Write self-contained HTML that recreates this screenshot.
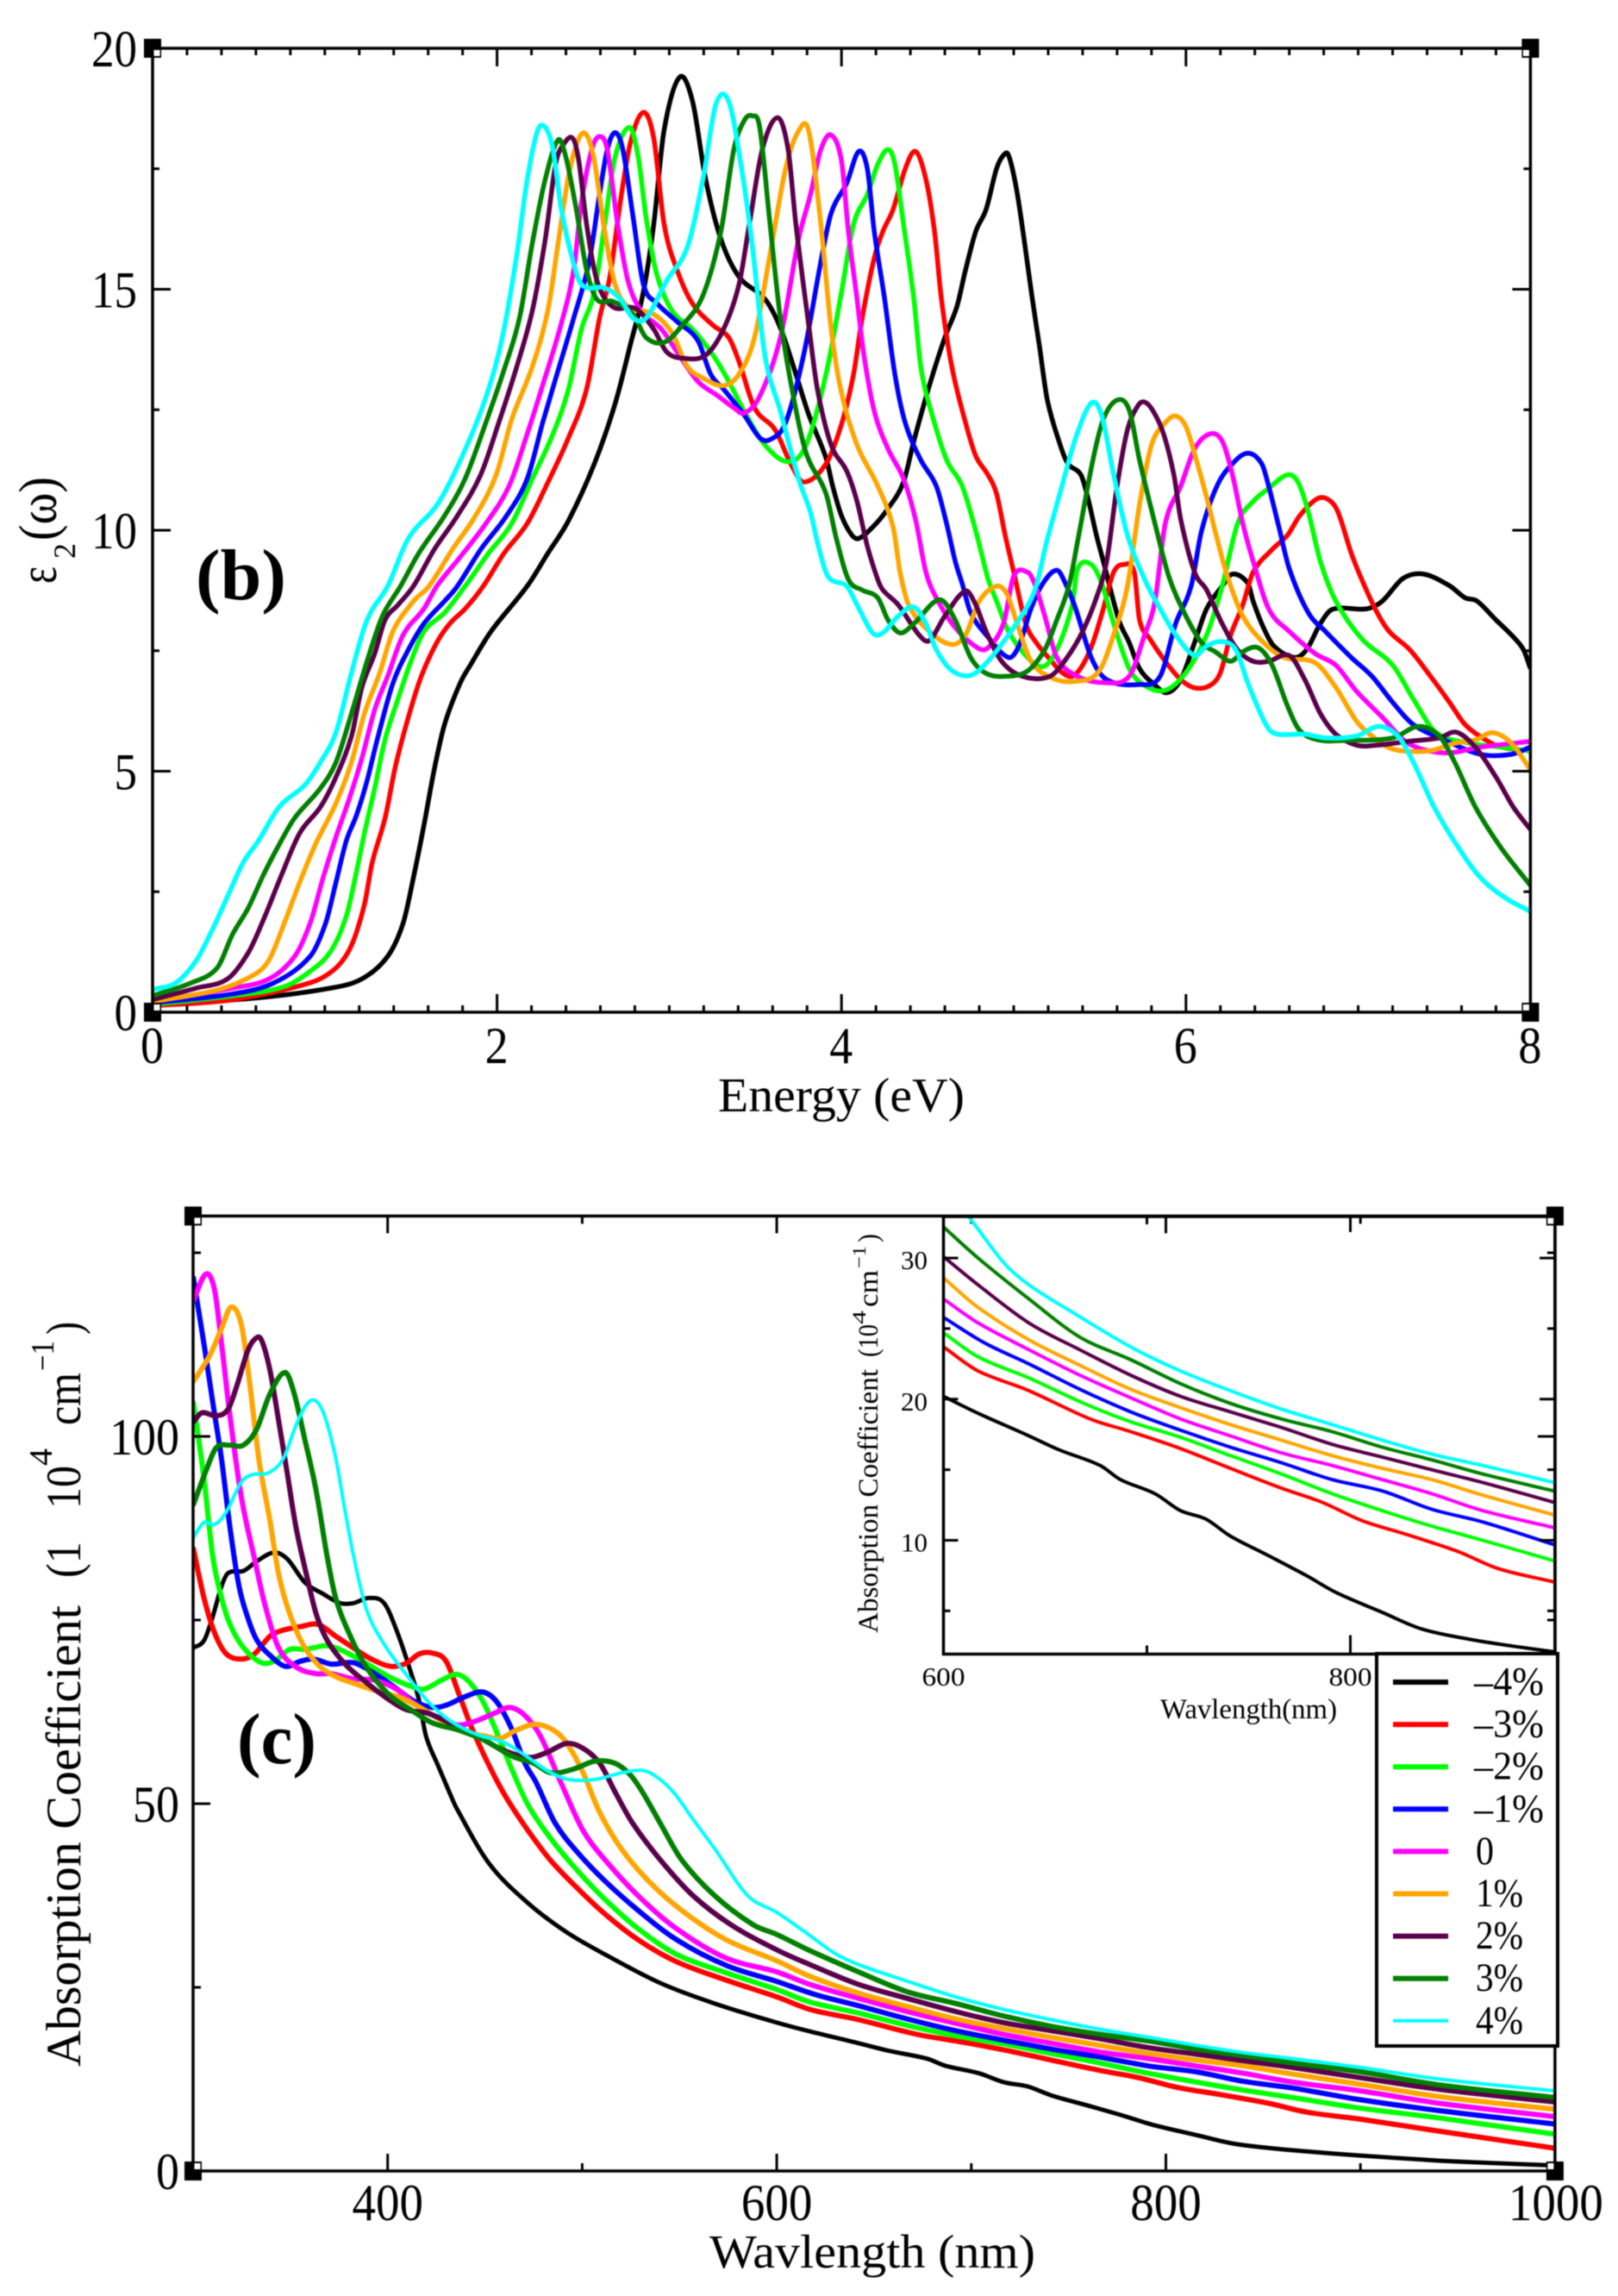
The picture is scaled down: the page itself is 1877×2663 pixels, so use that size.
<!DOCTYPE html>
<html lang="en">
<head>
<meta charset="utf-8">
<title>Dielectric function and absorption coefficient versus strain</title>
<style>
html,body{margin:0;padding:0;background:#fff;}
svg{display:block;filter:blur(0.6px);}
text{font-family:"Liberation Serif","DejaVu Serif",serif;fill:#000;}
</style>
</head>
<body>
<svg id="fig" xmlns="http://www.w3.org/2000/svg" width="1877" height="2663" viewBox="0 0 1877 2663">
<defs>
<clipPath id="clipB"><rect x="177" y="56" width="1598" height="1118"/></clipPath>
<clipPath id="clipC"><rect x="224" y="1412" width="1580" height="1106"/></clipPath>
<clipPath id="clipI"><rect x="1094.5" y="1412" width="708" height="506"/></clipPath>
</defs>
<g id="panelB"></g>
<g id="panelC"></g>
<g id="panelI"></g>
<g id="legend"></g>

<text x="833" y="1289" font-size="56" textLength="286" lengthAdjust="spacingAndGlyphs">Energy (eV)</text>
<text transform="translate(65,677) rotate(-90)" font-size="62" textLength="20" lengthAdjust="spacingAndGlyphs">ε</text>
<text transform="translate(87,648) rotate(-90)" font-size="36" textLength="18" lengthAdjust="spacingAndGlyphs">2</text>
<text transform="translate(65,627) rotate(-90)" font-size="62" textLength="74" lengthAdjust="spacingAndGlyphs">(ω)</text>
<text x="227" y="695" font-size="84" font-weight="bold" textLength="105" lengthAdjust="spacingAndGlyphs">(b)</text>

<text x="823" y="2630" font-size="55" textLength="378" lengthAdjust="spacingAndGlyphs">Wavlength (nm)</text>
<text x="275" y="2045" font-size="84" font-weight="bold" textLength="92" lengthAdjust="spacingAndGlyphs">(c)</text>
<g>
<text transform="translate(93,2397) rotate(-90)" font-size="57" textLength="535" lengthAdjust="spacingAndGlyphs">Absorption Coefficient</text>
<text transform="translate(93,1830) rotate(-90)" font-size="57" textLength="42" lengthAdjust="spacingAndGlyphs">(1</text>
<text transform="translate(93,1750) rotate(-90)" font-size="57" textLength="50" lengthAdjust="spacingAndGlyphs">10</text>
<text transform="translate(60,1700) rotate(-90)" font-size="38" textLength="20" lengthAdjust="spacingAndGlyphs">4</text>
<text transform="translate(93,1653) rotate(-90)" font-size="57" textLength="61" lengthAdjust="spacingAndGlyphs">cm</text>
<text transform="translate(62,1590) rotate(-90)" font-size="38" textLength="35" lengthAdjust="spacingAndGlyphs">−1</text>
<text transform="translate(93,1548) rotate(-90)" font-size="57" textLength="15" lengthAdjust="spacingAndGlyphs">)</text>
</g>

<text x="1346" y="1993" font-size="33" textLength="205" lengthAdjust="spacingAndGlyphs">Wavlength(nm)</text>
<g>
<text transform="translate(1018,1894) rotate(-90)" font-size="33" textLength="306" lengthAdjust="spacingAndGlyphs">Absorption Coefficient</text>
<text transform="translate(1018,1574) rotate(-90)" font-size="33" textLength="38" lengthAdjust="spacingAndGlyphs">(10</text>
<text transform="translate(1004,1536) rotate(-90)" font-size="22" textLength="16" lengthAdjust="spacingAndGlyphs">4</text>
<text transform="translate(1018,1516) rotate(-90)" font-size="33" textLength="43" lengthAdjust="spacingAndGlyphs">cm</text>
<text transform="translate(1004,1471) rotate(-90)" font-size="22" textLength="26" lengthAdjust="spacingAndGlyphs">−1</text>
<text transform="translate(1018,1441) rotate(-90)" font-size="33" textLength="10" lengthAdjust="spacingAndGlyphs">)</text>
</g>
</svg>
<script>
/* ---------- shared labels ---------- */
const strainLabels = ['–4%','–3%','–2%','–1%','0','1%','2%','3%','4%'];
const strainKeys = ['minus-4','minus-3','minus-2','minus-1','zero','plus-1','plus-2','plus-3','plus-4'];
const seriesColors = ['#000000','#ff0000','#00ff00','#0000ff','#ff00ff','#ffa500','#5a004a','#008000','#00ffff'];

/* ---------- panel b tick values ---------- */
const bXMajor = [0,2,4,6,8];
const bYMajor = [0,5,10,15,20];
const bYMinor = [2.5,7.5,12.5,17.5];

/* ---------- panel b data: energy (eV) and epsilon2 ---------- */
const energyM4 = [0,.615,1.035,1.215,1.365,1.455,1.515,1.575,1.635,1.695,1.785,1.845,1.965,2.175,2.295,2.415,2.565,2.685,2.775,2.85,2.91,2.97,3.06,3.135,3.21,3.3,3.405,3.555,3.645,3.735,3.81,3.91,3.95,4.0,4.06,4.1,4.18,4.27,4.36,4.42,4.51,4.6,4.67,4.72,4.78,4.84,4.9,4.94,4.97,5.015,5.06,5.105,5.15,5.195,5.27,5.315,5.39,5.43,5.48,5.52,5.61,5.67,5.73,5.81,5.89,5.97,6.05,6.12,6.21,6.27,6.36,6.39,6.45,6.51,6.63,6.7,6.78,6.85,7.05,7.14,7.26,7.38,7.53,7.62,7.69,7.8,7.9,7.96,8];
const eps2M4 = [.15,.30,.5,.69,1.16,1.85,2.8,3.87,5.03,5.97,6.82,7.2,7.9,8.84,9.52,10.2,11.38,12.62,13.86,14.95,16.35,18.3,19.4,18.9,17.3,16.04,15.26,14.8,14.2,13.24,12.4,11.5,10.9,10.3,9.9,9.83,10.06,10.45,11,11.85,13,14,14.64,15.4,16.2,16.66,17.5,17.78,17.78,17.1,16.04,14.87,13.8,12.7,11.77,11.38,11.15,10.68,9.9,9.36,8.14,7.67,7.13,6.82,6.63,6.9,7.67,8.37,8.84,9.09,8.9,8.53,7.98,7.6,7.36,7.52,8.06,8.36,8.37,8.53,9.0,9.09,8.85,8.6,8.53,8.14,7.79,7.52,7.13];

const energyM3 = [0,.465,.915,1.065,1.155,1.23,1.275,1.35,1.41,1.485,1.56,1.65,1.725,1.815,1.92,2.04,2.175,2.295,2.415,2.52,2.595,2.655,2.715,2.775,2.85,2.91,2.97,3.045,3.135,3.255,3.345,3.405,3.495,3.615,3.705,3.78,3.91,4.0,4.07,4.12,4.19,4.24,4.3,4.37,4.43,4.49,4.54,4.58,4.64,4.72,4.78,4.85,4.9,4.95,5.0,5.07,5.13,5.22,5.28,5.34,5.4,5.46,5.52,5.58,5.64,5.7,5.73,5.79,5.88,5.97,6.05,6.14,6.2,6.26,6.33,6.39,6.5,6.59,6.66,6.76,6.82,6.88,6.96,7.03,7.11,7.18,7.3,7.42,7.53,7.62,7.74,7.83,8];
const eps2M3 = [.13,.26,.61,.92,1.39,2.24,3.1,4.03,5.1,6.12,6.97,7.67,8.06,8.37,8.84,9.52,10.14,10.99,11.92,12.93,14.4,15.26,16.8,18.05,18.67,18.13,16.35,15.4,14.7,14.25,14.0,13.5,12.54,12.08,11.38,11,11.38,12.2,13.24,14.4,15.65,16.2,16.66,17.5,17.86,17.28,16.2,14.8,13.4,12.23,11.54,11.15,10.76,9.9,9.13,8.06,7.67,7.28,7.05,6.97,7.2,7.67,8.37,9.13,9.29,9.13,8.14,7.75,7.28,6.9,6.73,6.78,7.05,7.83,8.45,9.13,9.6,9.9,10.3,10.65,10.65,10.4,9.52,8.9,8.29,7.9,7.52,6.97,6.43,5.97,5.65,5.5,5.42];

const energyM2 = [0,.465,.765,.915,1.035,1.125,1.185,1.23,1.29,1.35,1.425,1.5,1.575,1.695,1.815,1.95,2.085,2.205,2.325,2.415,2.49,2.565,2.625,2.685,2.77,2.82,2.865,2.925,3.015,3.135,3.255,3.345,3.435,3.555,3.69,3.795,3.91,4.0,4.07,4.15,4.21,4.27,4.31,4.36,4.42,4.46,4.52,4.61,4.7,4.78,4.85,4.9,4.97,5.08,5.17,5.25,5.34,5.37,5.45,5.51,5.58,5.67,5.76,5.88,6.0,6.12,6.21,6.3,6.39,6.47,6.59,6.65,6.71,6.78,6.87,7.02,7.2,7.32,7.45,7.65,7.83,8];
const eps2M2 = [.16,.34,.53,.85,1.27,2.0,2.94,3.72,4.65,5.66,6.5,7.28,7.9,8.29,8.84,9.52,10.14,11.07,12,12.93,14.17,14.95,16.35,17.74,18.36,17.74,16.5,15.34,14.56,14.17,13.63,13.09,12.47,11.77,11.42,11.77,13.24,14.95,16.35,16.97,17.59,17.9,17.59,16.35,14.8,13.4,12.47,11.46,10.92,9.98,9.0,8.53,7.9,7.36,7.17,7.52,8.45,9.2,9.29,8.9,8.06,7.13,6.78,6.68,7.05,7.83,8.84,10.14,10.6,10.84,11.15,11,10.38,9.36,8.53,7.75,7.2,6.5,5.81,5.58,5.5,5.42];

const energyM1 = [0,.465,.705,.915,1.005,1.065,1.125,1.185,1.245,1.305,1.395,1.485,1.575,1.695,1.77,1.905,2.055,2.175,2.265,2.355,2.445,2.535,2.595,2.64,2.685,2.73,2.79,2.85,2.925,3.045,3.165,3.24,3.315,3.435,3.525,3.585,3.675,3.78,3.88,3.94,4.03,4.1,4.15,4.19,4.25,4.31,4.37,4.46,4.55,4.61,4.66,4.7,4.75,4.84,4.97,5.03,5.1,5.17,5.25,5.3,5.36,5.45,5.54,5.73,5.85,5.94,6.03,6.09,6.18,6.27,6.36,6.44,6.48,6.54,6.6,6.71,6.81,6.96,7.08,7.2,7.32,7.5,7.71,7.89,8];
const eps2M1 = [.19,.38,.61,1.16,1.85,2.7,3.56,4.1,4.8,5.66,6.82,7.52,8.06,8.53,8.84,9.6,10.3,11.07,12.23,13.32,14.4,15.57,16.97,17.9,18.25,17.9,16.5,15.1,14.72,14.33,13.94,13.24,12.93,12.39,11.92,11.88,12.23,13.63,15.57,16.58,17.2,17.86,17.5,16.2,14.8,13.24,12.23,11.46,10.92,10.14,9.36,8.9,8.29,7.83,7.36,7.6,8.37,8.9,9.17,8.9,8.37,7.36,6.9,6.8,6.97,8.06,8.84,9.98,10.92,11.38,11.6,11.38,10.92,10.06,9.2,8.29,7.9,7.36,6.97,6.43,5.97,5.65,5.35,5.35,5.5];

const energyZ = [0,.465,.675,.825,.915,.99,1.065,1.14,1.215,1.29,1.365,1.455,1.575,1.65,1.785,1.935,2.07,2.175,2.265,2.37,2.445,2.49,2.55,2.595,2.64,2.7,2.76,2.835,2.955,3.045,3.165,3.285,3.375,3.435,3.525,3.645,3.75,3.82,3.88,3.94,4.0,4.04,4.09,4.13,4.19,4.27,4.36,4.43,4.49,4.55,4.66,4.79,4.85,4.94,5.0,5.08,5.12,5.18,5.25,5.37,5.52,5.67,5.76,5.82,5.88,5.97,6.05,6.14,6.21,6.27,6.33,6.39,6.48,6.6,6.75,6.87,6.99,7.14,7.29,7.5,7.71,8];
const eps2Z = [.22,.5,.69,1.16,1.85,2.79,3.64,4.41,5.27,6.28,6.97,7.83,8.37,8.84,9.44,10.14,10.92,12,13.01,14.25,15.4,16.8,17.9,18.17,17.9,16.35,15.18,14.56,14.17,13.7,13.09,12.78,12.54,12.43,12.78,14,16.03,16.97,17.9,18.2,17.66,16.2,14.8,13.63,12.47,11.69,11.07,10.22,9.13,8.6,7.98,7.56,7.56,8.06,9.05,9.13,8.9,8.22,7.36,6.97,6.84,6.97,7.83,8.53,10.14,10.92,11.69,12.0,11.85,11.15,10.14,9.36,8.37,7.9,7.44,7.2,6.66,6.12,5.58,5.38,5.5,5.62];

const energyP1 = [0,.375,.585,.675,.765,.855,.945,1.065,1.155,1.23,1.32,1.395,1.515,1.605,1.74,1.875,1.995,2.085,2.205,2.295,2.355,2.415,2.475,2.52,2.565,2.625,2.685,2.76,2.91,3.015,3.105,3.195,3.315,3.405,3.495,3.585,3.675,3.75,3.81,3.88,3.94,4.0,4.09,4.21,4.3,4.34,4.39,4.51,4.64,4.72,4.8,4.9,4.96,5.02,5.1,5.22,5.34,5.49,5.58,5.66,5.73,5.8,5.88,5.94,6.0,6.06,6.12,6.18,6.24,6.33,6.45,6.57,6.75,6.87,6.99,7.08,7.2,7.41,7.56,7.68,7.78,7.89,8];
const eps2P1 = [.22,.46,.77,1.08,1.85,2.7,3.48,4.34,5.19,6.2,7.05,7.9,8.53,8.84,9.6,10.3,11.15,12.3,13.4,14.56,15.96,17.35,18.13,18.2,17.66,16.2,15.1,14.64,14.48,14.1,13.4,13.16,13.0,13.24,14.0,15.73,17.5,18.28,18.28,16.35,14.17,12.85,11.77,10.92,10.06,9.13,8.45,7.9,7.63,7.83,8.53,8.84,8.68,8.06,7.28,6.94,6.86,7.05,7.83,8.84,10.53,11.77,12.23,12.37,12.15,11.46,10.68,9.83,9.05,8.22,7.67,7.36,7.25,6.74,6.04,5.73,5.46,5.42,5.58,5.65,5.8,5.58,5.03];

const energyP2 = [0,.255,.435,.555,.645,.75,.855,.975,1.065,1.155,1.215,1.29,1.35,1.425,1.515,1.635,1.77,1.905,2.01,2.115,2.205,2.28,2.34,2.385,2.44,2.475,2.52,2.58,2.67,2.805,2.91,2.985,3.075,3.21,3.315,3.405,3.465,3.54,3.63,3.69,3.735,3.81,3.86,3.94,4.03,4.09,4.15,4.21,4.24,4.33,4.45,4.51,4.6,4.72,4.78,4.84,4.93,5.05,5.21,5.31,5.4,5.48,5.54,5.6,5.66,5.72,5.76,5.81,5.87,5.93,5.97,6.05,6.12,6.21,6.3,6.39,6.48,6.6,6.69,6.78,6.87,6.99,7.11,7.29,7.47,7.57,7.68,7.8,7.9,8];
const eps2P2 = [.26,.5,.69,1.23,1.93,2.86,3.72,4.26,4.88,5.73,6.74,7.44,8.14,8.45,8.84,9.6,10.3,11.15,12.23,13.4,14.56,16.03,17.59,18.0,18.13,17.66,16.35,15.18,14.64,14.6,14.17,13.7,13.57,13.63,14.17,15.1,16.35,17.9,18.56,17.9,16.35,14.25,12.93,11.77,11.23,10.6,9.67,8.98,8.76,8.45,7.83,7.71,8.22,8.74,8.45,7.9,7.28,6.97,6.97,7.36,7.9,8.6,9.36,10.92,12.08,12.58,12.66,12.47,12,11.15,10.22,9.13,8.76,8.06,7.52,7.28,7.28,7.4,6.9,6.2,5.77,5.54,5.54,5.62,5.69,5.81,5.5,4.88,4.26,3.79];

const energyP3 = [0,.225,.375,.465,.555,.645,.735,.825,.975,1.065,1.155,1.245,1.335,1.44,1.545,1.695,1.815,1.935,2.04,2.13,2.205,2.28,2.355,2.4,2.46,2.52,2.58,2.67,2.79,2.865,2.97,3.075,3.195,3.3,3.375,3.435,3.48,3.525,3.585,3.645,3.72,3.795,3.91,3.97,4.04,4.12,4.21,4.27,4.34,4.42,4.57,4.66,4.75,4.84,4.96,5.08,5.18,5.25,5.32,5.37,5.46,5.52,5.6,5.67,5.73,5.82,5.9,5.99,6.09,6.17,6.26,6.33,6.42,6.5,6.59,6.66,6.77,6.93,7.2,7.35,7.47,7.56,7.68,7.83,8];
const eps2P3 = [.34,.61,.92,1.62,2.16,2.86,3.48,4.03,4.65,5.19,6.2,7.28,8.22,8.84,9.52,10.3,11.07,12.23,13.32,14.4,15.96,17.28,18.1,17.74,16.66,15.4,14.79,14.75,14.48,14,13.9,14.25,14.87,16.2,17.9,18.5,18.6,18.36,16.35,14.4,12.78,11.6,10.76,9.83,8.98,8.76,8.6,8.14,7.87,8.06,8.56,8.14,7.36,7.03,6.97,7.08,7.52,8.14,8.84,9.75,11.46,12.3,12.7,12.5,11.46,10.14,9.05,8.29,7.67,7.48,7.28,7.48,7.56,7.2,6.35,5.85,5.65,5.64,5.69,5.93,5.73,5.19,4.26,3.41,2.63];

const energyP4 = [0,.135,.255,.345,.435,.525,.615,.735,.885,.975,1.065,1.155,1.245,1.365,1.485,1.665,1.845,1.965,2.04,2.115,2.175,2.235,2.28,2.325,2.37,2.43,2.49,2.625,2.715,2.79,2.865,2.985,3.105,3.195,3.27,3.345,3.42,3.48,3.555,3.645,3.75,3.82,3.86,3.92,4.03,4.09,4.18,4.24,4.33,4.42,4.49,4.55,4.64,4.75,4.85,4.97,5.07,5.13,5.19,5.28,5.36,5.45,5.51,5.58,5.66,5.76,5.85,5.94,6.05,6.12,6.21,6.29,6.36,6.47,6.53,6.69,6.81,6.99,7.12,7.23,7.32,7.44,7.57,7.71,7.86,8];
const eps2P4 = [.47,.61,1.08,1.7,2.4,3.1,3.56,4.26,4.72,5.19,5.81,7.05,8.14,8.84,9.83,10.6,11.92,13.09,14.17,15.73,17.28,18.29,18.36,17.9,16.73,15.73,15.1,15.03,14.8,14.4,14.4,15.18,15.88,17.28,18.83,18.9,17.5,15.96,13.63,12.47,11.07,10.37,9.75,9.05,8.84,8.45,7.87,7.87,8.22,8.41,8.06,7.52,7.09,6.99,7.28,7.83,8.37,8.84,9.75,10.92,11.92,12.64,12.39,11.15,9.9,8.98,8.37,7.83,7.4,7.6,7.69,7.52,6.82,5.93,5.77,5.77,5.69,5.73,5.93,5.73,5.19,4.26,3.48,2.79,2.36,2.09];

/* ---------- panel c tick values ---------- */
const cXMajor = [400,600,800,1000];
const cXMinor = [500,700,900];
const cYMajor = [0,50,100];
const cYMinor = [25,75,125];

/* ---------- panel c data: wavelength (nm) and absorption ---------- */
const lamM4 = [300,305.6,310,314.6,318,326,332.7,341.7,348.5,357.5,366.6,375.6,382.4,390.3,398.2,405,411.8,416.3,419.7,425.4,432,435.4,452,472,492,511.6,540,568,600,617,642,657,677,687,704,716.5,729,741,758.6,778.4,793,815.6,835.4,860,880,900,941,966,1000];
const absM4 = [71.2,72.2,75.4,79.6,81.4,81.7,83,84.2,83.3,80.1,78.6,77.3,77.3,78,77.3,73.3,68,63.9,59.2,55.5,51.4,49.4,41.9,36.5,32.5,29.5,25.6,22.8,20.2,19,17.4,16.4,15.3,14.3,13.3,12.1,11.5,10.3,9,7.5,6.3,4.9,3.7,2.95,2.5,2.1,1.4,1.1,.75];

const lamM3 = [300,305.6,311,317,325,331.6,339.5,346,355,364.3,373.3,382.4,391.5,401.6,409.5,416.3,423,430,436.7,443.4,452.5,460.8,472,483.4,497.5,511.6,528.6,548.4,573.8,600,617,642,672,692,716.5,741,766,786,805.6,828,853,872.5,900,941,1000];
const absM3 = [84.9,78,73.3,70.4,69.7,70.4,72.8,73.6,74.1,74.4,72.8,71.2,69.7,68.7,69.1,70.4,70.5,69.4,64.9,60.2,55,50.9,46.4,42.4,38.5,35,31.5,28.5,26,23.7,22,20.6,18.6,17.7,16.5,15.1,13.7,12.7,11.4,10.4,9.2,8,7.05,5.4,3.1];

const lamM2 = [300,305.6,310,314.6,319,326,335,341.7,349.6,357.5,368.8,377.8,389,400.5,411.8,418.6,427.6,435.5,442.2,450,459.3,463.6,472,483.4,497.5,511.6,528.6,548.4,573.8,600,617,642,669,692,716.5,741,766,791,815.6,840,865,900,941,1000];
const absM2 = [104.8,94.3,83.8,78,74.4,71.2,69.2,69.4,71,71,71.5,70.7,69.1,67.3,66,65.6,66.8,67.6,66.5,63.4,57.6,54.8,49.9,45.4,40.9,37,33,29.5,27,24.7,23,21.5,19.7,18.4,17.3,16,14.7,13.3,12.1,11,10,8.55,7.2,5];

const lamM1 = [300,305.6,310,314.6,319,323.6,328,332.7,339.5,347.4,355.3,362,371,382.4,391.5,402.8,414,423,430,441,449,456,463.7,470.6,476.3,486,497.5,511.6,528.6,548.4,573.8,600,620,642,667,692,716.5,741,766,791,815.6,840,865,900,941,1000];
const absM1 = [121.8,112.6,104.8,96.9,87.5,79.6,75.4,72.3,70.2,68.7,69.4,69.7,69,69.2,68,66,63.9,63.1,63.4,64.7,65.2,63.9,60.2,55.5,52.9,47.4,43.4,39.5,35.5,31.5,28,25.8,24,22.5,20.7,19.1,17.8,16.6,15.5,14.3,13.5,12.2,11.3,9.7,8.2,6.4];

const lamZ = [300,306.6,311,314.6,319,324.8,331.6,337,344,353,363,371,382.4,393.7,405,416.3,427.6,436.7,445.8,454.7,462.7,470.6,478.5,489,500.3,511.6,528.6,548.4,573.8,600,617,642,667,692,716.5,741,766,791,815.6,840,865,900,941,1000];
const absZ = [118.4,122.1,120,112.6,102.7,91.7,83.3,77,71.2,68.6,67.7,67.7,67,66.8,65.5,63.1,61.5,60.7,61.3,62.3,63.1,62,59.2,52.9,46.4,42.4,37.5,33,29,27.1,25.4,23.5,21.7,20.1,18.6,17.4,16.2,15.3,14.3,13.3,12.1,10.9,9.2,7.4];

const lamP1 = [300,308.5,314.6,319.6,324.8,329,333.8,339.5,344,349.6,356.4,364.3,373.3,384.7,396,407,418.6,429.8,441,450,458,466,476,485.3,491.9,500.3,508.8,520,534,551,573.8,600,617,642,667,692,716.5,741,766,791,815.6,840,865,900,941,1000];
const absP1 = [107.4,111,114.7,117.6,115.2,107.4,96.9,88.5,81.2,75.9,71.7,68.9,67.3,66.2,65.2,64.4,62.8,61,59.7,59.2,58.9,60,60.8,60,58.3,54.3,48.9,43.9,39.5,35.5,31.5,28.6,26.5,24.2,22.4,20.7,19.4,18.2,17.1,16,15.1,14.3,13.2,11.8,10.1,8.4];

const lamP2 = [300,304.4,312,318,322.5,328,331.6,335,339.5,344,348.5,353,358.7,363.2,368.8,377.8,389,400.5,409.5,420.8,432,446,459.3,472.8,482,492,500,509,517.3,525.8,540,556.9,576.6,600,617,642,667,692,716.5,741,766,791,815.6,840,865,900,941,1000];
const absP2 = [101.9,103.2,102.8,103.7,106.9,111.6,113.2,113.2,109,102.1,94.8,87.5,80.7,75.9,72.3,69.1,66.5,64.2,62.8,62.3,61,59.2,57.3,56.3,57,58.2,57.6,55.5,51.4,47.4,42.4,37.5,33.5,30.1,28.1,25.4,23.5,21.7,20.2,19.1,18,16.8,15.9,15,14.1,12.7,11.1,9.4];

const lamP3 = [300,306.6,312,319,325.8,332.7,339.5,347.4,352,357.5,363.2,368.8,373.3,380,389,400.5,411.8,423,436.7,450,463.7,475,484,495.4,506.6,516.8,524.8,531.4,540,551,568,588,600,617,642,667,692,716.5,741,766,791,815.6,840,865,900,941,1000];
const absP3 = [90.6,95.3,98.5,98.8,98.8,101,105.8,108.7,105.8,99.5,92.7,83.8,78,73.3,68.6,64.9,62.8,61,60,58.6,56.5,55.5,54.2,54.7,55.8,55.5,53.9,51.4,47.4,42.4,37.5,33.5,32.2,30,27.1,24.4,22.8,21.1,19.7,18.6,17.7,16.6,15.7,14.7,13.5,11.7,10];

const lamP4 = [300,305.6,311,316.8,324.8,330.4,338.3,346.2,353,358.7,363.2,367.7,373.4,378,382.4,389,398.2,409.5,420.8,432,446,459.3,470.6,482,493,506.6,520.3,531.6,539.5,547.4,556.9,568,585,600,613.6,630,642,664,692,716.5,741,766,791,815.6,840,865,900,941,1000];
const absP4 = [86.2,88.3,88,89.6,93.8,94.8,95,96.9,101.6,104.5,104.8,102.7,96.9,90,83.8,76.5,71.7,67.6,63.9,61.3,59.4,58.4,56.6,54.5,53.3,53.3,54.2,54.5,53.4,51.4,47.9,43.9,37.5,35.2,32.7,29.6,28.1,26.1,23.7,22,20.6,19.3,18.2,17.1,16.1,15.3,14.1,12.5,10.9];

/* ---------- inset tick values ---------- */
const iXMajor = [600,800];
const iXMinor = [700];
const iYMajor = [10,20,30];
const iYMinor = [5,15,25];

/* ---------- inset data ---------- */
const iLamM4 = [600,617,642,657,677,687,704,716.5,729,741,758.6,778.4,793,815.6,835.4,860,880,900];
const iAbsM4 = [20.2,19,17.4,16.4,15.3,14.3,13.3,12.1,11.5,10.3,9,7.5,6.3,4.9,3.7,2.95,2.5,2.1];
const iLamM3 = [600,617,642,672,692,716.5,741,766,786,805.6,828,853,872.5,900];
const iAbsM3 = [23.7,22,20.6,18.6,17.7,16.5,15.1,13.7,12.7,11.4,10.4,9.2,8,7.05];
const iLamM2 = [600,617,642,669,692,716.5,741,766,791,815.6,840,865,900];
const iAbsM2 = [24.7,23,21.5,19.7,18.4,17.3,16,14.7,13.3,12.1,11,10,8.55];
const iLamM1 = [600,620,642,667,692,716.5,741,766,791,815.6,840,865,900];
const iAbsM1 = [25.8,24,22.5,20.7,19.1,17.8,16.6,15.5,14.3,13.5,12.2,11.3,9.7];
const iLamZ = [600,617,642,667,692,716.5,741,766,791,815.6,840,865,900];
const iAbsZ = [27.1,25.4,23.5,21.7,20.1,18.6,17.4,16.2,15.3,14.3,13.3,12.1,10.9];
const iLamP1 = [600,617,642,667,692,716.5,741,766,791,815.6,840,865,900];
const iAbsP1 = [28.6,26.5,24.2,22.4,20.7,19.4,18.2,17.1,16,15.1,14.3,13.2,11.8];
const iLamP2 = [600,617,642,667,692,716.5,741,766,791,815.6,840,865,900];
const iAbsP2 = [30.1,28.1,25.4,23.5,21.7,20.2,19.1,18,16.8,15.9,15,14.1,12.7];
const iLamP3 = [600,617,642,667,692,716.5,741,766,791,815.6,840,865,900];
const iAbsP3 = [32.2,30,27.1,24.4,22.8,21.1,19.7,18.6,17.7,16.6,15.7,14.7,13.5];
const iLamP4 = [600,613.6,630,642,664,692,716.5,741,766,791,815.6,840,865,900];
const iAbsP4 = [35.2,32.7,29.6,28.1,26.1,23.7,22,20.6,19.3,18.2,17.1,16.1,15.3,14.1];

/* ---------- axis functions ---------- */
const xB = v => 177 + 199.8 * v;
const yB = v => 1174 - 55.9 * v;
const xC = v => 224 + 2.257 * (v - 300);
const yC = v => 2518 - 8.52 * v;
const xI = v => 1094.5 + 2.36 * (v - 600);
const yI = v => 1786.5 - 16.37 * (v - 10);

const SVGNS = 'http://www.w3.org/2000/svg';
function mk(tag, parent, attrs) {
  const el = document.createElementNS(SVGNS, tag);
  for (const k in attrs) el.setAttribute(k, attrs[k]);
  parent.appendChild(el);
  return el;
}
function tickLine(parent, x1, y1, x2, y2, w, name) {
  const el = mk('line', parent, {x1, y1, x2, y2, stroke:'#000', 'stroke-width':w});
  
  
}
function tickLabel(parent, str, x, y, size, width, name) {
  const el = mk('text', parent, {x, y, 'font-size':size, textLength:width, lengthAdjust:'spacingAndGlyphs'});
  el.textContent = str;
  
  
}
function corner(parent, cx, cy, dx, dy, name) {
  const box = mk('rect', parent, {x:cx-10, y:cy-11, width:20, height:22, fill:'#000'});
  
  
  const hole = mk('rect', parent, {x:dx>0?cx+1.5:cx-8.5, y:dy>0?cy+2:cy-9, width:7, height:7, fill:'#fff'});
  
  
}
function frame(parent, x, y, w, h, sw, name) {
  const el = mk('rect', parent, {x, y, width:w, height:h, fill:'none', stroke:'#000', 'stroke-width':sw});
  
  
}
/* smooth cubic Hermite path through the data points, mapped through the axis functions */
function curvePath(xs, ys, fx, fy) {
  const px = xs.map(fx), py = ys.map(fy), n = px.length;
  const slope = i => {
    const a = Math.max(i - 1, 0), b = Math.min(i + 1, n - 1);
    return (py[b] - py[a]) / (px[b] - px[a]);
  };
  let d = 'M' + px[0].toFixed(1) + ' ' + py[0].toFixed(1);
  for (let i = 0; i < n - 1; i++) {
    const h = (px[i + 1] - px[i]) / 3;
    d += 'C' + (px[i] + h).toFixed(1) + ' ' + (py[i] + slope(i) * h).toFixed(1) + ' ' +
         (px[i + 1] - h).toFixed(1) + ' ' + (py[i + 1] - slope(i + 1) * h).toFixed(1) + ' ' +
         px[i + 1].toFixed(1) + ' ' + py[i + 1].toFixed(1);
  }
  return d;
}
function drawSeries(parent, xs, ys, fx, fy, color, width, clip, name) {
  const el = mk('path', parent, {d:curvePath(xs, ys, fx, fy), fill:'none', stroke:color, 'stroke-width':width, 'stroke-linejoin':'round', 'clip-path':'url(#' + clip + ')'});
  
  
}

/* ---------- panel b ---------- */
const gB = document.getElementById('panelB');
const bXSeries = [energyM4,energyM3,energyM2,energyM1,energyZ,energyP1,energyP2,energyP3,energyP4];
const bYSeries = [eps2M4,eps2M3,eps2M2,eps2M1,eps2Z,eps2P1,eps2P2,eps2P3,eps2P4];
bXSeries.forEach((xs, i) => {
  drawSeries(gB, xs, bYSeries[i], xB, yB, seriesColors[i], 5.5, 'clipB', 'epsilon2-curve-' + strainKeys[i]);
});
frame(gB, xB(0), yB(20), xB(8)-xB(0), yB(0)-yB(20), 3.5, 'panel-b-frame');
for (let t = 0; t <= 40; t++) {
  const v = t * 0.2;
  const major = bXMajor.includes(Math.round(v * 10) / 10);
  const len = major ? 21 : 8;
  if (t > 0 && t < 40) {
    tickLine(gB, xB(v), yB(0), xB(v), yB(0) - len, 3, 'x-tick-bottom');
    tickLine(gB, xB(v), yB(20), xB(v), yB(20) + len, 3, 'x-tick-top');
  }
}
bYMajor.slice(1, -1).forEach(v => {
  tickLine(gB, xB(0), yB(v), xB(0) + 21, yB(v), 3, 'y-tick-left');
  tickLine(gB, xB(8), yB(v), xB(8) - 21, yB(v), 3, 'y-tick-right');
});
bYMinor.forEach(v => {
  tickLine(gB, xB(0), yB(v), xB(0) + 8, yB(v), 3, 'y-minor-tick-left');
  tickLine(gB, xB(8), yB(v), xB(8) - 8, yB(v), 3, 'y-minor-tick-right');
});
bXMajor.forEach(v => {
  tickLabel(gB, String(v), xB(v) - 14, 1233, 60, 27, 'x-tick-label-' + v);
});
bYMajor.forEach(v => {
  const s = String(v);
  const w = s.length * 26.5;
  tickLabel(gB, s, 159 - w, yB(v) + 21, 60, w, 'y-tick-label-' + v);
});
corner(gB, xB(0), yB(20), 1, 1, 'corner-mark-top-left');
corner(gB, xB(8), yB(20), -1, 1, 'corner-mark-top-right');
corner(gB, xB(0), yB(0), 1, -1, 'corner-mark-bottom-left');
corner(gB, xB(8), yB(0), -1, -1, 'corner-mark-bottom-right');

/* ---------- panel c ---------- */
const gC = document.getElementById('panelC');
const cXSeries = [lamM4,lamM3,lamM2,lamM1,lamZ,lamP1,lamP2,lamP3,lamP4];
const cYSeries = [absM4,absM3,absM2,absM1,absZ,absP1,absP2,absP3,absP4];
const cWidths = [5,6,6,6,6,6,6,6,4];
cXSeries.forEach((xs, i) => {
  drawSeries(gC, xs, cYSeries[i], xC, yC, seriesColors[i], cWidths[i], 'clipC', 'absorption-curve-' + strainKeys[i]);
});
frame(gC, xC(300), yC(130), xC(1000)-xC(300), yC(0)-yC(130), 3.5, 'panel-c-frame');
cXMajor.slice(0, -1).forEach(v => {
  tickLine(gC, xC(v), yC(0), xC(v), yC(0) - 20, 3, 'x-tick-bottom');
  tickLine(gC, xC(v), yC(130), xC(v), yC(130) + 20, 3, 'x-tick-top');
});
cXMinor.forEach(v => {
  tickLine(gC, xC(v), yC(0), xC(v), yC(0) - 9, 3, 'x-minor-tick-bottom');
  tickLine(gC, xC(v), yC(130), xC(v), yC(130) + 9, 3, 'x-minor-tick-top');
});
cYMajor.slice(1).forEach(v => {
  tickLine(gC, xC(300), yC(v), xC(300) + 20, yC(v), 3, 'y-tick-left');
  tickLine(gC, xC(1000), yC(v), xC(1000) - 20, yC(v), 3, 'y-tick-right');
});
cYMinor.forEach(v => {
  tickLine(gC, xC(300), yC(v), xC(300) + 9, yC(v), 3, 'y-minor-tick-left');
  tickLine(gC, xC(1000), yC(v), xC(1000) - 9, yC(v), 3, 'y-minor-tick-right');
});
cXMajor.forEach(v => {
  const s = String(v);
  const w = s.length * 27.5;
  tickLabel(gC, s, xC(v) - w / 2 + (v === 1000 ? 1 : 0), 2575, 60, w, 'x-tick-label-' + v);
});
cYMajor.forEach(v => {
  const s = String(v);
  const w = s.length * 27;
  tickLabel(gC, s, 208 - w, yC(v) + 21, 60, w, 'y-tick-label-' + v);
});
corner(gC, xC(300), yC(130), 1, 1, 'corner-mark-top-left');
corner(gC, xC(1000), yC(130), -1, 1, 'corner-mark-top-right');
corner(gC, xC(300), yC(0), 1, -1, 'corner-mark-bottom-left');
corner(gC, xC(1000), yC(0), -1, -1, 'corner-mark-bottom-right');

/* ---------- inset ---------- */
const gI = document.getElementById('panelI');
const iXSeries = [iLamM4,iLamM3,iLamM2,iLamM1,iLamZ,iLamP1,iLamP2,iLamP3,iLamP4];
const iYSeries = [iAbsM4,iAbsM3,iAbsM2,iAbsM1,iAbsZ,iAbsP1,iAbsP2,iAbsP3,iAbsP4];
iXSeries.forEach((xs, i) => {
  drawSeries(gI, xs, iYSeries[i], xI, yI, seriesColors[i], 4, 'clipI', 'inset-curve-' + strainKeys[i]);
});
const iTop = 1411, iBottom = 1918.5, iLeft = 1094.5, iRight = 1804;
frame(gI, iLeft, iTop, iRight - iLeft, iBottom - iTop, 3.5, 'inset-frame');
iXMajor.slice(1).forEach(v => {
  tickLine(gI, xI(v), iBottom, xI(v), iBottom - 22, 3, 'inset-x-tick-bottom');
  tickLine(gI, xI(v), iTop, xI(v), iTop + 18, 3, 'inset-x-tick-top');
});
iXMinor.forEach(v => {
  tickLine(gI, xI(v), iBottom, xI(v), iBottom - 10, 3, 'inset-x-minor-tick-bottom');
  tickLine(gI, xI(v), iTop, xI(v), iTop + 9, 3, 'inset-x-minor-tick-top');
});
iYMajor.forEach(v => {
  tickLine(gI, iLeft, yI(v), iLeft + 17, yI(v), 3, 'inset-y-tick-left');
  tickLine(gI, iRight, yI(v), iRight - 18, yI(v), 3, 'inset-y-tick-right');
  tickLabel(gI, String(v), 1045, yI(v) + 13, 31, 31, 'inset-y-tick-label-' + v);
});
iYMinor.forEach(v => {
  tickLine(gI, iLeft, yI(v), iLeft + 8, yI(v), 3, 'inset-y-minor-tick-left');
  tickLine(gI, iRight, yI(v), iRight - 9, yI(v), 3, 'inset-y-minor-tick-right');
});
iXMajor.forEach(v => {
  tickLabel(gI, String(v), xI(v) - 25, 1955, 31, 50, 'inset-x-tick-label-' + v);
});

/* ---------- legend ---------- */
const gL = document.getElementById('legend');
const lb = mk('rect', gL, {x:1597, y:1918, width:210, height:455, fill:'#fff', stroke:'#000', 'stroke-width':4});


strainLabels.forEach((label, i) => {
  const ry = 1951 + i * 49.1;
  const ln = mk('line', gL, {x1:1616, y1:ry, x2:1680, y2:ry, stroke:seriesColors[i], 'stroke-width': i === 8 ? 4 : 6});
  
  
  const tw = label.length === 3 ? 81 : (label.length === 2 ? 55 : 21);
  const tx = mk('text', gL, {x: label.length === 3 ? 1710 : 1712, y: ry + 14.5, 'font-size':47, textLength:tw, lengthAdjust:'spacingAndGlyphs'});
  tx.textContent = label;
  
  
});
</script>
</body>
</html>
